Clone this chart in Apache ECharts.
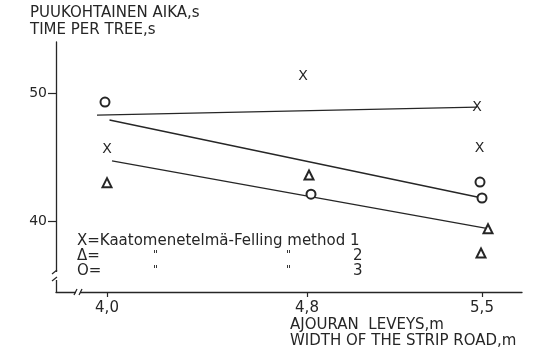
<!DOCTYPE html>
<html>
<head>
<meta charset="utf-8">
<script src="https://cdn.jsdelivr.net/npm/echarts@6/dist/echarts.min.js"></script>
<style>
  html, body { margin: 0; padding: 0; background: #fff; }
  #chart { width: 545px; height: 354px; }
</style>
</head>
<body>
<div id="chart"></div>
<script>
// Strip road width (m) versus felling time per tree (s), three felling methods.
const xTickValues = [4.0, 4.8, 5.5];
const xTickLabels = ['4,0', '4,8', '5,5'];
const yTickValues = [40, 50];
const yTickLabels = ['40', '50'];

// Observed means, [road width, time per tree]
const method1Points = [[4.0, 45.6], [4.784, 51.3], [5.48, 48.9], [5.49, 45.7]];
const method2Points = [[4.0, 43.0], [4.808, 43.6], [5.524, 39.4], [5.496, 37.5]];
const method3Points = [[3.992, 49.3], [4.816, 42.1], [5.492, 43.05], [5.5, 41.8]];

// Fitted regression lines (end points)
const method1Line = [[3.96, 48.28], [5.48, 48.9]];
const method2Line = [[4.01, 47.9], [5.5, 41.8]];
const method3Line = [[4.02, 44.7], [5.524, 39.4]];

const ink = '#262626';
const font = 'DejaVu Sans';

const chart = echarts.init(document.getElementById('chart'), null, { renderer: 'canvas' });

const lineSeries = (data) => ({
  type: 'line', data, symbol: 'none', silent: true,
  lineStyle: { color: ink, width: 1.3 }, z: 2
});

chart.setOption({
  backgroundColor: '#fff',
  animation: false,
  grid: { left: 56, right: 23, top: 42, bottom: 62 },
  xAxis: {
    type: 'value', min: 3.796, max: 5.66,
    axisLine: { lineStyle: { color: ink, width: 1.3 } },
    axisTick: { length: 5, lineStyle: { color: ink, width: 1.2 }, customValues: xTickValues },
    axisLabel: {
      customValues: xTickValues, margin: 9, color: ink, fontFamily: font, fontSize: 15,
      formatter: (v) => xTickLabels[xTickValues.findIndex(t => Math.abs(t - v) < 1e-6)]
    },
    splitLine: { show: false }
  },
  yAxis: {
    type: 'value', min: 34.45, max: 54,
    axisLine: { show: true, lineStyle: { color: ink, width: 1.3 } },
    axisTick: { show: true, length: 8, lineStyle: { color: ink, width: 1.2 }, customValues: yTickValues },
    axisLabel: {
      customValues: yTickValues, margin: 9, color: ink, fontFamily: font, fontSize: 14,
      formatter: (v) => yTickLabels[yTickValues.indexOf(v)]
    },
    splitLine: { show: false }
  },
  series: [
    lineSeries(method1Line),
    lineSeries(method2Line),
    lineSeries(method3Line),
    {
      type: 'scatter', data: method1Points, symbol: 'circle', symbolSize: 1,
      itemStyle: { color: 'rgba(0,0,0,0)', opacity: 1 },
      label: {
        show: true, position: 'inside', formatter: 'X', color: ink,
        fontFamily: font, fontSize: 14, textBorderWidth: 0, textBorderColor: 'transparent'
      },
      emphasis: { disabled: true },
      z: 3
    },
    {
      type: 'scatter', data: method2Points, symbol: 'emptyTriangle', symbolSize: [9, 9],
      itemStyle: { color: ink, borderColor: ink, borderWidth: 1.4, opacity: 1 }, z: 3
    },
    {
      type: 'scatter', data: method3Points, symbol: 'emptyCircle', symbolSize: 9,
      itemStyle: { color: ink, borderColor: ink, borderWidth: 1.4, opacity: 1 }, z: 3
    }
  ]
});

// Axis titles, legend text and axis-break marks
const txt = (text, left, y, size) => ({
  type: 'text', left, top: y - size * 0.6, z: 10,
  style: { text, fill: ink, font: `${size}px "${font}"` }
});

const yBreak = chart.convertToPixel({ yAxisIndex: 0 }, 35.7);
const xBreak = chart.convertToPixel({ xAxisIndex: 0 }, 3.884);
const axisX = chart.convertToPixel({ xAxisIndex: 0 }, 3.796);
const axisY = chart.convertToPixel({ yAxisIndex: 0 }, 34.45);

const seg = (x1, y1, x2, y2) => ({
  type: 'line', z: 12, shape: { x1, y1, x2, y2 },
  style: { stroke: ink, lineWidth: 1.2 }
});

chart.setOption({
  graphic: [
    txt('PUUKOHTAINEN AIKA,s', 30, 15, 15),
    txt('TIME PER TREE,s', 30, 32, 15),
    txt('AJOURAN  LEVEYS,m', 290, 327, 15),
    txt('WIDTH OF THE STRIP ROAD,m', 290, 343, 15),
    txt('X=Kaatomenetelmä-Felling method 1', 77, 243, 15),
    txt('Δ=', 77, 258, 15),
    txt('O=', 77, 273, 15),
    txt('"', 153, 256, 11),
    txt('"', 153, 271, 11),
    txt('"', 286, 256, 11),
    txt('"', 286, 271, 11),
    txt('2', 353, 258, 15),
    txt('3', 353, 273, 15),
    // y-axis break
    { type: 'rect', z: 11, shape: { x: axisX - 2, y: yBreak - 4, width: 4, height: 8 }, style: { fill: '#fff' } },
    seg(axisX + 1, yBreak - 6, axisX - 4, yBreak - 2),
    seg(axisX + 1, yBreak + 1, axisX - 4, yBreak + 5),
    // x-axis break
    { type: 'rect', z: 11, shape: { x: xBreak - 2, y: axisY - 2, width: 4, height: 4 }, style: { fill: '#fff' } },
    seg(xBreak - 4, axisY + 3, xBreak - 1, axisY - 3),
    seg(xBreak + 1, axisY + 3, xBreak + 4, axisY - 3)
  ]
});
</script>
</body>
</html>
